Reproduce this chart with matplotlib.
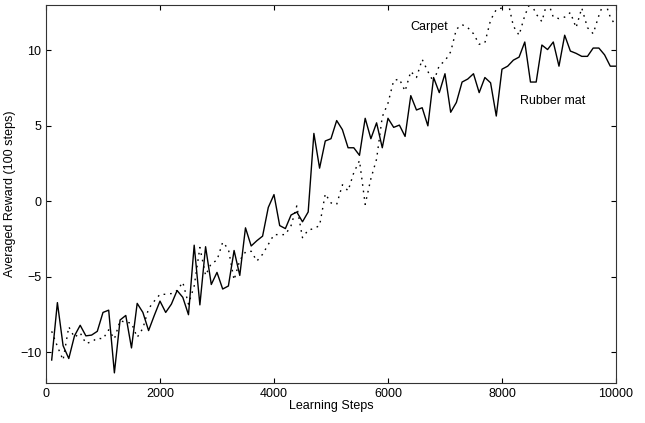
import numpy as np
import matplotlib
matplotlib.use("Agg")
import matplotlib.pyplot as plt

plt.rcParams['font.family'] = ['Liberation Sans', 'DejaVu Sans']

# learning steps (every 100 steps)
steps = np.arange(100, 10001, 100)

# Rubber mat (solid)
rubber = [
    -10.5, -6.7, -9.55, -10.4, -8.9, -8.2, -8.9, -8.85, -8.6, -7.35,
    -7.2, -11.35, -7.85, -7.55, -9.7, -6.75, -7.35, -8.55, -7.55, -6.6,
    -7.35, -6.8, -5.9, -6.35, -7.5, -2.9, -6.85, -3.0, -5.5, -4.7,
    -5.8, -5.6, -3.25, -4.9, -1.75, -2.95, -2.6, -2.3, -0.4, 0.45,
    -1.6, -1.8, -0.9, -0.7, -1.35, -0.7, 4.5, 2.2, 4.0, 4.15,
    5.35, 4.75, 3.55, 3.55, 3.05, 5.5, 4.15, 5.2, 3.55, 5.5,
    4.9, 5.05, 4.3, 7.0, 6.05, 6.2, 5.0, 8.2, 7.2, 8.45,
    5.9, 6.55, 7.9, 8.1, 8.45, 7.2, 8.2, 7.85, 5.65, 8.75,
    8.95, 9.35, 9.55, 10.55, 7.9, 7.9, 10.35, 10.05, 10.55, 8.95,
    11.0, 9.95, 9.8, 9.6, 9.6, 10.15, 10.15, 9.7, 8.95, 8.95,
]

# Carpet (dotted)
carpet = [
    -8.6, -9.6, -10.5, -8.3, -9.0, -8.7, -9.4, -9.3, -9.05, -9.1,
    -8.5, -9.1, -7.9, -8.0, -8.05, -9.0, -8.4, -7.1, -6.6, -6.15,
    -6.15, -6.1, -5.9, -5.35, -6.8, -5.6, -3.05, -4.9, -4.1, -3.9,
    -2.7, -3.15, -5.2, -3.9, -3.35, -3.3, -3.95, -3.5, -2.85, -2.2,
    -2.2, -2.2, -1.6, -0.3, -2.4, -1.9, -1.8, -1.6, 0.5, -0.1,
    -0.2, 1.1, 0.7, 1.9, 2.7, -0.2, 1.5, 2.8, 5.6, 6.5,
    8.0, 8.1, 7.3, 8.6, 8.2, 9.4, 8.6, 7.9, 9.0, 9.3,
    9.9, 11.4, 11.7, 11.5, 11.1, 10.4, 10.5, 12.0, 12.7, 12.8,
    13.3, 11.6, 11.0, 12.3, 13.2, 12.4, 11.9, 13.3, 12.2, 12.1,
    12.2, 12.5, 11.5, 12.8, 11.5, 11.1, 12.3, 13.3, 12.2, 11.6,
]

fig = plt.figure(figsize=(6.45, 4.23), dpi=100)
ax = fig.add_axes([0.0713, 0.0953, 0.8837, 0.8929])

ax.plot(steps, rubber, color='black', linewidth=1.0)
ax.plot(steps, carpet, color='black', linewidth=1.0, linestyle=(0, (1.2, 3.5)))

ax.text(6400, 11.55, 'Carpet', fontsize=9, va='center', ha='left')
ax.text(8310, 6.65, 'Rubber mat', fontsize=9, va='center', ha='left')

ax.set_xlim(0, 10000)
ax.set_ylim(-12, 13)
ax.set_xticks([0, 2000, 4000, 6000, 8000, 10000])
ax.set_yticks([-10, -5, 0, 5, 10])
ax.tick_params(direction='in', top=True, right=True, length=3.5, labelsize=9)
for s in ax.spines.values():
    s.set_color('#333333')
ax.set_xlabel('Learning Steps', fontsize=9, labelpad=0)
ax.set_ylabel('Averaged Reward (100 steps)', fontsize=9, labelpad=3)

fig.savefig('out.png', dpi=100)
